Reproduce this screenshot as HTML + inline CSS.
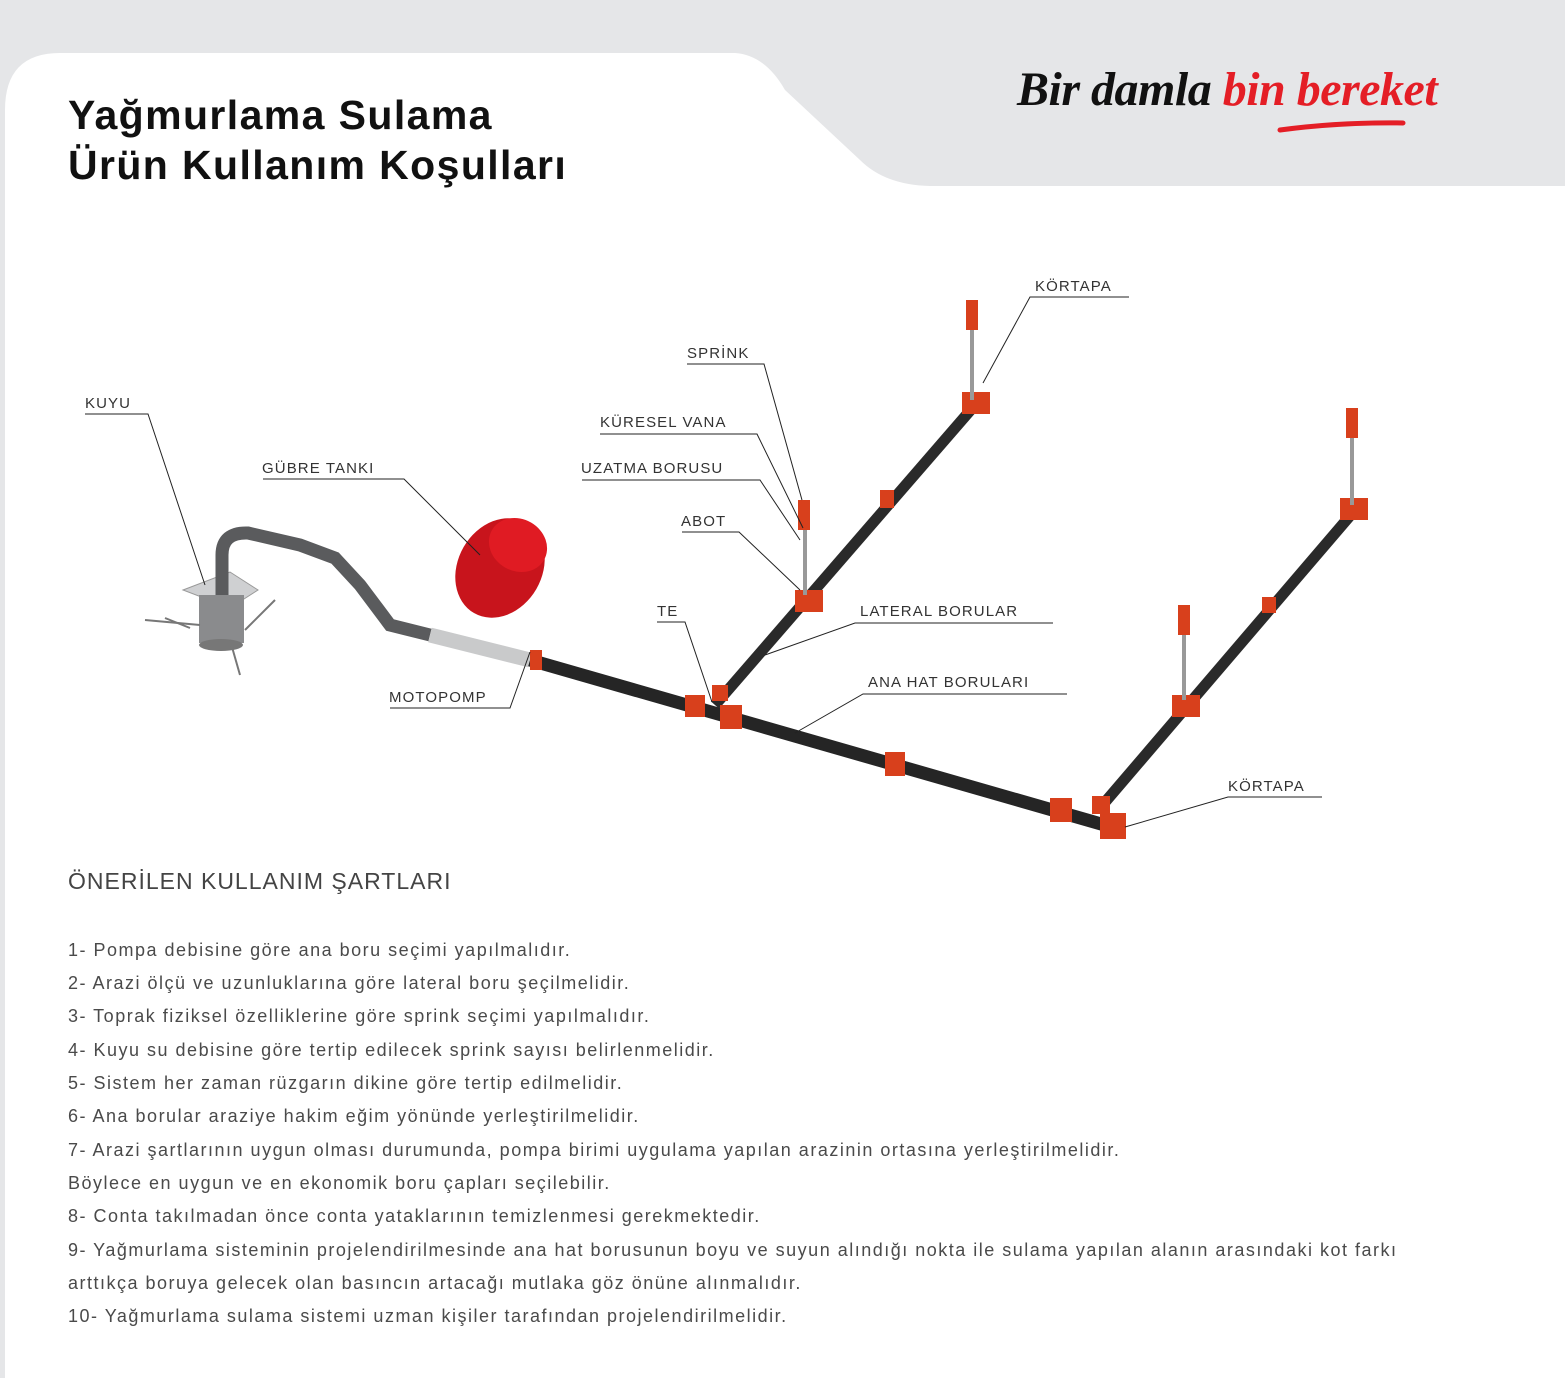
<!DOCTYPE html>
<html><head><meta charset="utf-8"><style>
body{margin:0;width:1565px;height:1378px;position:relative;background:#fff;font-family:"Liberation Sans",sans-serif;overflow:hidden}
.t{position:absolute;color:#111;font-weight:bold;font-size:41px;left:68px;line-height:50px;letter-spacing:1.4px}
.h{position:absolute;left:68px;top:868px;font-size:23px;color:#444;letter-spacing:1px}
.l{position:absolute;left:68px;font-size:18px;color:#4a4a4a;letter-spacing:1.5px;white-space:nowrap}
.lb{position:absolute;font-size:15px;color:#333;letter-spacing:1.1px}
</style></head><body>
<svg width="1565" height="1378" style="position:absolute;left:0;top:0">
<rect x="0" y="0" width="1565" height="1378" fill="#e5e6e8"/>
<path d="M5,1378 L5,110 Q5,53 60,53 L735,53 Q765,55 785,90 L860,160 Q885,185 930,186 L1565,186 L1565,1378 Z" fill="#fff"/>
<path d="M1280,130 Q1340,122 1403,123" stroke="#e41e26" stroke-width="5" fill="none" stroke-linecap="round"/>
<polygon points="183,590 230,572 258,590 230,608" fill="#cfd0d2" stroke="#999"/>
<rect x="199" y="595" width="45" height="48" fill="#8a8b8d"/>
<ellipse cx="221" cy="645" rx="22" ry="6" fill="#777"/>
<g stroke="#777" stroke-width="2"><line x1="145" y1="620" x2="200" y2="625"/><line x1="245" y1="630" x2="275" y2="600"/><line x1="230" y1="640" x2="240" y2="675"/><line x1="190" y1="628" x2="165" y2="618"/></g>
<path d="M222,595 L222,555 Q222,532 248,533 L300,545 L335,558 L360,585 L390,625 L430,635" stroke="#5a5b5d" stroke-width="13" fill="none"/>
<path d="M430,635 L530,660" stroke="#c9cacb" stroke-width="15"/>
<ellipse cx="500" cy="568" rx="42" ry="52" transform="rotate(30 500 568)" fill="#c8141c"/>
<ellipse cx="518" cy="545" rx="30" ry="26" transform="rotate(30 518 545)" fill="#e01b23"/>
<path d="M530,660 L1115,828" stroke="#252525" stroke-width="13"/>
<path d="M715,705 L975,405" stroke="#2a2a2a" stroke-width="11"/>
<path d="M1100,808 L1355,510" stroke="#2a2a2a" stroke-width="11"/>
<g fill="#d8401c">
<rect x="685" y="695" width="20" height="22"/><rect x="720" y="705" width="22" height="24"/><rect x="885" y="752" width="20" height="24"/><rect x="1050" y="798" width="22" height="24"/><rect x="1100" y="813" width="26" height="26"/><rect x="1092" y="796" width="18" height="18"/>
<rect x="795" y="590" width="28" height="22"/><rect x="962" y="392" width="28" height="22"/><rect x="880" y="490" width="14" height="18"/>
<rect x="1340" y="498" width="28" height="22"/><rect x="1172" y="695" width="28" height="22"/><rect x="1262" y="597" width="14" height="16"/><rect x="530" y="650" width="12" height="20"/><rect x="712" y="685" width="16" height="16"/>
</g>
<g stroke="#999" stroke-width="4"><line x1="805" y1="595" x2="805" y2="520"/><line x1="972" y1="400" x2="972" y2="320"/><line x1="1352" y1="505" x2="1352" y2="430"/><line x1="1184" y1="700" x2="1184" y2="625"/></g>
<g fill="#d8401c"><rect x="798" y="500" width="12" height="30"/><rect x="966" y="300" width="12" height="30"/><rect x="1346" y="408" width="12" height="30"/><rect x="1178" y="605" width="12" height="30"/></g>
<g stroke="#222" stroke-width="1" fill="none">
<polyline points="85,414 148,414 205,585"/>
<polyline points="263,479 404,479 480,555"/>
<polyline points="390,708 510,708 530,652"/>
<polyline points="687,364 764,364 802,500"/>
<polyline points="600,434 757,434 803,528"/>
<polyline points="582,480 760,480 800,540"/>
<polyline points="682,532 739,532 800,590"/>
<polyline points="657,622 685,622 712,702"/>
<polyline points="1053,623 855,623 765,655"/>
<polyline points="1067,694 863,694 795,733"/>
<polyline points="1035,297 1129,297 1030,297 983,383"/>
<polyline points="1322,797 1228,797 1125,827"/>
</g>
</svg>
<div style="position:absolute;left:1017px;top:62px;font-size:48px;font-style:italic;font-weight:bold;font-family:'Liberation Serif',serif;letter-spacing:-0.5px"><span style="color:#111">Bir damla </span><span style="color:#e41e26">bin bereket</span></div>
<div class="t" style="top:90px">Yağmurlama Sulama</div>
<div class="t" style="top:140px">Ürün Kullanım Koşulları</div>
<div class="lb" style="left:85px;top:395px">KUYU</div>
<div class="lb" style="left:262px;top:460px">GÜBRE TANKI</div>
<div class="lb" style="left:389px;top:689px">MOTOPOMP</div>
<div class="lb" style="left:687px;top:345px">SPRİNK</div>
<div class="lb" style="left:600px;top:414px">KÜRESEL VANA</div>
<div class="lb" style="left:581px;top:460px">UZATMA BORUSU</div>
<div class="lb" style="left:681px;top:513px">ABOT</div>
<div class="lb" style="left:657px;top:603px">TE</div>
<div class="lb" style="left:860px;top:603px">LATERAL BORULAR</div>
<div class="lb" style="left:868px;top:674px">ANA HAT BORULARI</div>
<div class="lb" style="left:1035px;top:278px">KÖRTAPA</div>
<div class="lb" style="left:1228px;top:778px">KÖRTAPA</div>
<div class="h">ÖNERİLEN KULLANIM ŞARTLARI</div>
<div class="l" style="top:940px">1- Pompa debisine göre ana boru seçimi yapılmalıdır.</div>
<div class="l" style="top:973px">2- Arazi ölçü ve uzunluklarına göre lateral boru şeçilmelidir.</div>
<div class="l" style="top:1006px">3- Toprak fiziksel özelliklerine göre sprink seçimi yapılmalıdır.</div>
<div class="l" style="top:1040px">4- Kuyu su debisine göre tertip edilecek sprink sayısı belirlenmelidir.</div>
<div class="l" style="top:1073px">5- Sistem her zaman rüzgarın dikine göre tertip edilmelidir.</div>
<div class="l" style="top:1106px">6- Ana borular araziye hakim eğim yönünde yerleştirilmelidir.</div>
<div class="l" style="top:1140px">7- Arazi şartlarının uygun olması durumunda, pompa birimi uygulama yapılan arazinin ortasına yerleştirilmelidir.</div>
<div class="l" style="top:1173px">Böylece en uygun ve en ekonomik boru çapları seçilebilir.</div>
<div class="l" style="top:1206px">8- Conta takılmadan önce conta yataklarının temizlenmesi gerekmektedir.</div>
<div class="l" style="top:1240px">9- Yağmurlama sisteminin projelendirilmesinde ana hat borusunun boyu ve suyun alındığı nokta ile sulama yapılan alanın arasındaki kot farkı</div>
<div class="l" style="top:1273px">arttıkça boruya gelecek olan basıncın artacağı mutlaka göz önüne alınmalıdır.</div>
<div class="l" style="top:1306px">10- Yağmurlama sulama sistemi uzman kişiler tarafından projelendirilmelidir.</div>
</body></html>
